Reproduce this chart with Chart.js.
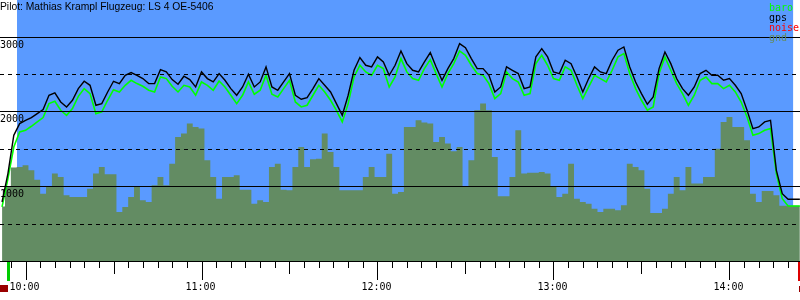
<!DOCTYPE html>
<html>
<head>
<meta charset="utf-8">
<script src="https://cdn.jsdelivr.net/npm/chart.js@4.4.1/dist/chart.umd.min.js"></script>
<style>
  html, body { margin: 0; padding: 0; background: #fff; }
  #wrap { width: 800px; height: 300px; }
</style>
</head>
<body>
<div id="wrap"><canvas id="flight" width="800" height="300"></canvas></div>
<script>
// samples every 2 minutes, starting 09:52 (minutes since midnight)
const startMin = 592;
const stepMin = 2;

const gps = [
  789, 1169, 1681, 1838, 1882, 1918, 1971, 2025, 2217, 2248,
  2127, 2061, 2150, 2306, 2404, 2350, 2083, 2105, 2261, 2404,
  2373, 2484, 2520, 2484, 2440, 2373, 2373, 2560, 2529, 2426,
  2364, 2471, 2426, 2328, 2529, 2440, 2395, 2507, 2417, 2306,
  2217, 2328, 2498, 2328, 2395, 2596, 2328, 2284, 2395, 2507,
  2217, 2163, 2185, 2306, 2440, 2350, 2261, 2105, 1949, 2217,
  2551, 2721, 2618, 2596, 2730, 2663, 2484, 2618, 2810, 2640,
  2551, 2529, 2663, 2788, 2596, 2417, 2573, 2707, 2908, 2854,
  2707, 2573, 2573, 2484, 2261, 2328, 2596, 2551, 2507, 2306,
  2328, 2730, 2841, 2730, 2529, 2507, 2685, 2640, 2462, 2261,
  2440, 2596, 2529, 2507, 2685, 2819, 2863, 2596, 2395, 2239,
  2096, 2194, 2573, 2796, 2640, 2440, 2306, 2217, 2328, 2507,
  2551, 2484, 2484, 2417, 2440, 2350, 2239, 2016, 1771, 1793,
  1860, 1882, 1213, 901, 825, 825, 825
];

const baro = [
  723, 1102, 1525, 1726, 1748, 1802, 1860, 1918, 2105, 2136,
  2016, 1949, 2038, 2203, 2306, 2239, 1971, 1994, 2150, 2292,
  2261, 2350, 2417, 2373, 2337, 2284, 2261, 2462, 2440, 2337,
  2261, 2350, 2328, 2217, 2395, 2350, 2284, 2408, 2328, 2217,
  2105, 2217, 2395, 2230, 2284, 2484, 2230, 2194, 2306, 2417,
  2127, 2061, 2083, 2217, 2350, 2261, 2150, 2016, 1860, 2105,
  2462, 2618, 2529, 2484, 2618, 2573, 2328, 2462, 2707, 2529,
  2440, 2417, 2573, 2694, 2507, 2328, 2507, 2640, 2810, 2752,
  2618, 2507, 2484, 2373, 2172, 2239, 2529, 2440, 2395, 2217,
  2239, 2640, 2752, 2618, 2440, 2417, 2596, 2551, 2350, 2172,
  2328, 2484, 2440, 2395, 2551, 2730, 2774, 2507, 2306, 2150,
  2016, 2061, 2507, 2730, 2551, 2373, 2239, 2083, 2217, 2417,
  2462, 2373, 2373, 2306, 2350, 2261, 2127, 1927, 1681, 1704,
  1748, 1771, 1169, 834, 736, 736, 736
];

const gnd = [
  730, 1000, 1250, 1258, 1280, 1213, 1088, 901, 990, 1169,
  1124, 879, 856, 856, 856, 968, 1169, 1258, 1160, 1160,
  656, 723, 856, 990, 812, 789, 1012, 1124, 1012, 1302,
  1659, 1704, 1838, 1793, 1771, 1347, 1124, 834, 1124, 1124,
  1146, 954, 954, 767, 812, 789, 1258, 1302, 954, 946,
  1258, 1525, 1258, 1360, 1369, 1704, 1458, 1258, 946, 946,
  946, 946, 1124, 1258, 1124, 1124, 1436, 901, 923, 1793,
  1793, 1882, 1851, 1838, 1592, 1659, 1570, 1467, 1525, 990,
  1347, 2016, 2105, 2016, 1392, 865, 865, 1124, 1748, 1169,
  1182, 1182, 1191, 1169, 990, 856, 901, 1302, 834, 789,
  767, 700, 656, 700, 700, 678, 745, 1302, 1258, 1213,
  968, 642, 642, 700, 901, 1124, 946, 1258, 1035, 1035,
  1124, 1124, 1503, 1860, 1927, 1793, 1793, 1615, 901, 789,
  937, 937, 879, 740, 740, 740, 740
];

const times = gps.map((v, i) => startMin + i * stepMin);

const legendItems = ['baro', 'gps', 'noise', 'gnd'];
const legendColors = ['#00ff00', '#000000', '#ff0000', '#638c63'];
const solidLevels = [1000, 2000, 3000];
const dashedLevels = [500, 1500, 2500];
const hourTicks = [600, 660, 720, 780, 840];
const hourLabels = ['10:00', '11:00', '12:00', '13:00', '14:00'];

const flightStart = 597.1;   // blue background window
const flightEnd = 861.7;
const takeoffTime = 593.9;
const landingTime = 864.0;
const title = 'Pilot: Mathias Krampl Flugzeug: LS 4 OE-5406';

const toPoints = arr => arr.map((v, i) => ({ x: times[i], y: v }));

const mono = '10px "DejaVu Sans Mono", monospace';

const flightPlugin = {
    id: 'flightPlugin',
    beforeDatasetsDraw(chart) {
        const { ctx, chartArea, scales: { x } } = chart;
        const x0 = x.getPixelForValue(flightStart);
        const x1 = x.getPixelForValue(flightEnd);
        ctx.save();
        ctx.fillStyle = '#5a9aff';
        ctx.fillRect(x0, chartArea.top, x1 - x0, chartArea.bottom - chartArea.top);
        ctx.restore();
    },
    afterDatasetsDraw(chart) {
        const { ctx, chartArea, scales: { y } } = chart;
        ctx.save();
        ctx.strokeStyle = '#000';
        ctx.lineWidth = 1;
        // horizontal levels
        solidLevels.forEach(v => {
            const py = Math.round(y.getPixelForValue(v)) + 0.5;
            ctx.beginPath();
            ctx.moveTo(0, py);
            ctx.lineTo(chartArea.right, py);
            ctx.stroke();
        });
        ctx.setLineDash([4, 4]);
        dashedLevels.forEach(v => {
            const py = Math.round(y.getPixelForValue(v)) + 0.5;
            ctx.beginPath();
            ctx.moveTo(0, py);
            ctx.lineTo(chartArea.right, py);
            ctx.stroke();
        });
        ctx.restore();
    },
    afterDraw(chart) {
        const { ctx, chartArea, scales: { x, y } } = chart;
        const base = Math.round(y.getPixelForValue(0));
        ctx.save();

        // axis line
        ctx.strokeStyle = '#000';
        ctx.lineWidth = 1;
        ctx.beginPath();
        ctx.moveTo(0, base + 0.5);
        ctx.lineTo(chartArea.right, base + 0.5);
        ctx.stroke();

        // 5 minute ticks
        for (let m = 595; m <= 860; m += 5) {
            const px = Math.round(x.getPixelForValue(m)) + 0.5;
            const len = m % 60 === 0 ? 18 : (m % 30 === 0 ? 12 : 6);
            ctx.beginPath();
            ctx.moveTo(px, base + 1);
            ctx.lineTo(px, base + 1 + len);
            ctx.stroke();
        }

        // hour labels
        ctx.fillStyle = '#000';
        ctx.font = mono;
        ctx.textAlign = 'center';
        ctx.textBaseline = 'alphabetic';
        hourTicks.forEach((m, i) => {
            ctx.fillText(hourLabels[i], x.getPixelForValue(m) - 1, 290);
        });

        // y labels
        ctx.textAlign = 'left';
        solidLevels.forEach(v => {
            ctx.fillText(String(v), 0, Math.round(y.getPixelForValue(v)) + 11);
        });

        // takeoff / landing markers
        const tx = x.getPixelForValue(takeoffTime);
        ctx.fillStyle = '#00cc00';
        ctx.fillRect(Math.round(tx) - 1, base + 1, 3, 19);
        const lx = x.getPixelForValue(landingTime);
        ctx.fillStyle = '#dd0000';
        ctx.fillRect(Math.round(lx) - 2, base + 1, 3, 19);
        ctx.fillStyle = '#990000';
        ctx.fillRect(Math.round(lx) - 1, base + 25, 2, 6);
        ctx.fillRect(0, 285, 8, 7);

        // legend
        ctx.font = mono;
        legendItems.forEach((name, i) => {
            ctx.fillStyle = legendColors[i];
            ctx.fillText(name, 769, 11 + i * 10);
        });

        // title
        ctx.fillStyle = '#000';
        ctx.font = '10.3px "Liberation Sans", Arial, sans-serif';
        ctx.fillText(title, 0, 10);
        ctx.restore();
    }
};

new Chart(document.getElementById('flight').getContext('2d'), {
    type: 'line',
    data: {
        datasets: [
            {
                label: 'gps',
                data: toPoints(gps),
                borderColor: '#000000',
                borderWidth: 1.4,
                pointRadius: 0,
                fill: false
            },
            {
                label: 'baro',
                data: toPoints(baro),
                borderColor: '#00ff00',
                borderWidth: 1.6,
                pointRadius: 0,
                fill: false
            },
            {
                label: 'gnd',
                data: toPoints(gnd),
                borderWidth: 0,
                borderColor: '#638c63',
                backgroundColor: '#638c63',
                pointRadius: 0,
                stepped: 'middle',
                fill: 'origin'
            }
        ]
    },
    options: {
        responsive: false,
        animation: false,
        devicePixelRatio: 1,
        events: [],
        layout: { padding: { left: 0, right: 0, top: 0, bottom: 39 } },
        plugins: {
            legend: { display: false },
            tooltip: { enabled: false }
        },
        scales: {
            x: { type: 'linear', min: 591.3, max: 864.05, display: false },
            y: { min: 0, max: 3491, display: false }
        }
    },
    plugins: [flightPlugin]
});
</script>
</body>
</html>
